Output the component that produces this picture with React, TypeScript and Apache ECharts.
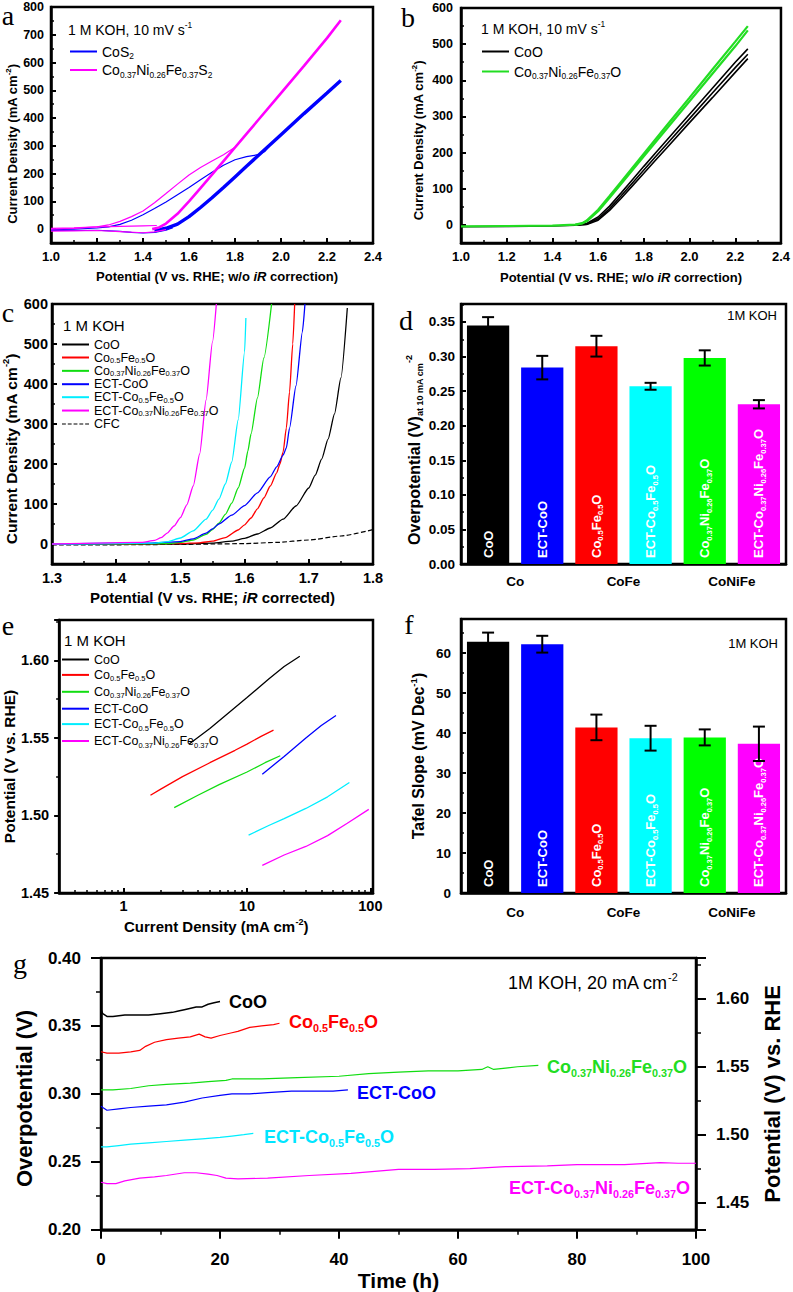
import React, { useEffect, useRef } from 'react';
import * as echarts from 'echarts';

type P = [number, number];

const FONT = '"Liberation Sans", Arial, Helvetica, sans-serif';
const SERIF = '"Liberation Serif", "DejaVu Serif", "Times New Roman", serif';

// ---------- names ----------
const N_CoS2 = 'CoS_{2}';
const N_CNFS = 'Co_{0.37}Ni_{0.26}Fe_{0.37}S_{2}';
const N_CoO = 'CoO';
const N_CF = 'Co_{0.5}Fe_{0.5}O';
const N_CNF = 'Co_{0.37}Ni_{0.26}Fe_{0.37}O';
const N_ECoO = 'ECT-CoO';
const N_ECF = 'ECT-Co_{0.5}Fe_{0.5}O';
const N_ECNF = 'ECT-Co_{0.37}Ni_{0.26}Fe_{0.37}O';
const N_CFC = 'CFC';

// ---------- panel a : CV, w/o iR ----------
const aCoS2Main: P[] = [[1.45,-6],[1.50,3],[1.55,18],[1.60,45],[1.65,78],[1.70,113],[1.75,150],[1.80,188],[1.85,226],[1.90,264],[1.95,302],[2.00,340],[2.10,416],[2.20,490],[2.26,535]];
const aCoS2First: P[] = [[1.00,-2],[1.10,0],[1.20,4],[1.25,8],[1.30,17],[1.35,32],[1.40,52],[1.45,74],[1.50,98],[1.55,124],[1.60,150],[1.65,178],[1.70,205],[1.75,230],[1.80,250],[1.85,261],[1.90,268],[1.93,280],[1.96,310]];
const aCoS2Return: P[] = [[1.00,-5],[1.10,-5],[1.20,-4],[1.30,-8],[1.35,-12],[1.40,-14],[1.45,-12],[1.50,-4],[1.53,5]];
const aCNFSMain: P[] = [[1.44,0],[1.47,6],[1.50,20],[1.55,55],[1.60,100],[1.65,148],[1.70,196],[1.75,245],[1.80,294],[1.85,343],[1.90,392],[2.00,490],[2.10,588],[2.20,688],[2.26,752]];
const aCNFSFirst: P[] = [[1.00,0],[1.10,3],[1.20,8],[1.25,15],[1.30,28],[1.35,45],[1.40,65],[1.45,95],[1.50,128],[1.55,162],[1.60,195],[1.65,222],[1.70,245],[1.75,268],[1.80,295],[1.84,335]];
const aCNFSReturn: P[] = [[1.00,-7],[1.10,-6],[1.20,-5],[1.30,-9],[1.40,-13],[1.45,-10],[1.50,-2]];
const aCNFSBase: P[] = [[1.00,3],[1.10,5],[1.20,8],[1.30,10],[1.40,12],[1.46,13]];

// ---------- panel b ----------
const bCoO1: P[] = [[1.00,-5],[1.20,-4],[1.40,-3],[1.50,-1],[1.55,4],[1.60,22],[1.65,52],[1.70,88],[1.75,125],[1.80,162],[1.85,198],[1.90,234],[2.00,306],[2.10,378],[2.20,450],[2.255,487]];
const bCoO2: P[] = [[1.50,-1],[1.55,2],[1.60,17],[1.65,45],[1.70,80],[1.75,116],[1.80,152],[1.85,188],[1.90,223],[2.00,294],[2.10,365],[2.20,435],[2.255,472]];
const bCoO3: P[] = [[1.50,-1],[1.55,1],[1.60,13],[1.65,40],[1.70,73],[1.75,108],[1.80,143],[1.85,178],[1.90,213],[2.00,283],[2.10,352],[2.20,422],[2.255,460]];
const bCNF1: P[] = [[1.00,-4],[1.20,-3],[1.40,-2],[1.50,1],[1.53,5],[1.55,12],[1.60,42],[1.65,80],[1.70,119],[1.80,197],[1.90,275],[2.00,352],[2.10,430],[2.20,507],[2.255,550]];
const bCNF2: P[] = [[1.50,0],[1.53,4],[1.55,10],[1.60,38],[1.65,75],[1.70,113],[1.80,190],[1.90,266],[2.00,342],[2.10,418],[2.20,494],[2.255,538]];

// ---------- panel c : iR corrected LSV ----------
const cCoO: P[] = [[1.30,0],[1.50,0],[1.55,2],[1.58,7],[1.60,14],[1.62,25],[1.64,40],[1.66,62],[1.68,95],[1.70,140],[1.71,172],[1.72,212],[1.73,262],[1.74,325],[1.75,415],[1.76,590]];
const cCF: P[] = [[1.30,0],[1.50,1],[1.53,3],[1.55,7],[1.57,16],[1.59,35],[1.60,48],[1.61,65],[1.62,88],[1.63,115],[1.64,145],[1.65,178],[1.655,200],[1.66,230],[1.665,290],[1.67,380],[1.675,500],[1.678,600]];
const cCNF: P[] = [[1.30,0],[1.48,1],[1.50,4],[1.52,10],[1.54,24],[1.55,36],[1.56,52],[1.57,74],[1.58,102],[1.59,140],[1.60,190],[1.605,232],[1.61,275],[1.62,365],[1.63,465],[1.642,600]];
const cECoO: P[] = [[1.30,0],[1.45,2],[1.50,6],[1.52,13],[1.54,27],[1.55,38],[1.56,50],[1.58,72],[1.60,96],[1.62,128],[1.64,168],[1.65,193],[1.66,222],[1.665,240],[1.67,290],[1.68,395],[1.69,530],[1.694,600]];
const cECF: P[] = [[1.30,0],[1.46,2],[1.48,6],[1.50,15],[1.52,33],[1.54,62],[1.55,84],[1.56,112],[1.57,150],[1.58,205],[1.59,310],[1.60,480],[1.602,565]];
const cECNF: P[] = [[1.30,0],[1.44,4],[1.46,9],[1.47,16],[1.48,28],[1.49,45],[1.50,66],[1.51,98],[1.52,145],[1.53,225],[1.54,360],[1.55,505],[1.556,600]];
const cCFC: P[] = [[1.30,-2],[1.40,-2],[1.50,-1],[1.55,0],[1.60,1],[1.65,4],[1.70,10],[1.75,20],[1.80,36]];

// ---------- panels d, f : bars ----------
const barCategories = ['CoO', 'ECT-CoO', 'Co0.5Fe0.5O', 'ECT-Co0.5Fe0.5O', 'Co0.37Ni0.26Fe0.37O', 'ECT-Co0.37Ni0.26Fe0.37O'];
const barLabels = [N_CoO, N_ECoO, N_CF, N_ECF, N_CNF, N_ECNF];
const groupLabels = ['Co', 'CoFe', 'CoNiFe'];
const dValues = [0.345, 0.284, 0.315, 0.257, 0.298, 0.231];
const dErrors = [0.012, 0.017, 0.015, 0.005, 0.011, 0.006];
const fValues = [62.8, 62.2, 41.4, 38.7, 38.9, 37.3];
const fErrors = [2.3, 2.1, 3.2, 3.1, 2.0, 4.3];

// ---------- panel e : Tafel ----------
const eCoO: P[] = [[3.4,1.546],[5,1.556],[10,1.576],[15,1.588],[20,1.596],[26.8,1.6026]];
const eCF: P[] = [[1.65,1.513],[2,1.517],[3,1.525],[5,1.534],[8,1.542],[10,1.546],[13,1.551],[16.4,1.555]];
const eCNF: P[] = [[2.57,1.505],[4,1.513],[6,1.520],[10,1.528],[14,1.534],[18.6,1.5385]];
const eECoO: P[] = [[13.3,1.5266],[15,1.530],[20,1.538],[30,1.550],[40,1.558],[52.6,1.5644]];
const eECF: P[] = [[10.3,1.4873],[15,1.4935],[20,1.498],[30,1.5045],[45,1.512],[67.6,1.5212]];
const eECNF: P[] = [[13.3,1.4678],[20,1.4745],[30,1.480],[45,1.487],[65,1.495],[97,1.5039]];

// ---------- panel g : stability ----------
const gCoO: P[] = [[0,0.362],[0.3,0.359],[1,0.357],[2,0.357],[4,0.358],[6,0.358],[8,0.358],[10,0.359],[12,0.360],[13,0.361],[14,0.362],[16,0.364],[17,0.364],[18,0.366],[19,0.367],[20,0.368]];
const gCF: P[] = [[0,0.331],[1,0.330],[3,0.330],[5,0.331],[6.5,0.332],[7.5,0.335],[9,0.338],[11,0.340],[13,0.341],[15,0.342],[16.5,0.344],[17.5,0.342],[18.5,0.341],[20,0.343],[22,0.345],[23,0.346],[25,0.349],[27,0.350],[29,0.351],[30,0.352]];
const gCNF: P[] = [[0,0.303],[2,0.303],[5,0.304],[8,0.306],[11,0.307],[15,0.308],[18,0.309],[21,0.310],[22,0.311],[27,0.311],[33,0.312],[40,0.313],[45,0.315],[50,0.316],[55,0.317],[60,0.317],[64,0.318],[65,0.320],[66,0.318],[68,0.319],[70,0.320],[73.5,0.321]];
const gECoO: P[] = [[0,0.291],[0.3,0.290],[1,0.288],[3,0.289],[5,0.290],[8,0.291],[11,0.292],[14,0.294],[17,0.297],[20,0.299],[22,0.300],[25,0.300],[28,0.301],[32,0.302],[36,0.302],[39,0.302],[41.5,0.303]];
const gECF: P[] = [[0,0.261],[1,0.261],[3,0.262],[5,0.263],[8,0.264],[11,0.265],[14,0.266],[17,0.267],[20,0.268],[22,0.269],[24,0.270],[25.6,0.271]];
const gECNF: P[] = [[0,0.235],[1,0.234],[2.5,0.234],[4,0.236],[6.5,0.238],[9,0.239],[11,0.240],[14,0.242],[16,0.242],[18,0.241],[19.5,0.240],[21,0.238],[23,0.2375],[28,0.238],[35,0.240],[42,0.2415],[50,0.2445],[56,0.2445],[62,0.245],[68,0.2465],[75,0.247],[80,0.248],[88,0.248],[94,0.2495],[97,0.249],[100,0.249]];

// ---------- styles ----------
const BLACK = '#000000';
const RED = '#ff0000';
const GREEN = '#11dd11';
const BLUE = '#0000ff';
const CYAN = '#00eeff';
const MAGENTA = '#ff00ff';
const barColors = ['#000000', '#0000ff', '#ff0000', '#00ffff', '#00ff00', '#ff00ff'];
const DASH_ICON = 'path://M0,0H4V1H0Z M6,0H10V1H6Z M12,0H16V1H12Z M18,0H22V1H18Z M24,0H28V1H24Z';

function rt(s: string): string {
  let out = '';
  let buf = '';
  const flush = () => { if (buf) { out += '{m|' + buf + '}'; buf = ''; } };
  let i = 0;
  while (i < s.length) {
    const c = s[i];
    if ((c === '_' || c === '^' || c === '~') && s[i + 1] === '{') {
      flush();
      const end = s.indexOf('}', i);
      const key = c === '_' ? 's' : c === '^' ? 'p' : 'i';
      out += '{' + key + '|' + s.slice(i + 2, end) + '}';
      i = end + 1;
    } else { buf += c; i++; }
  }
  flush();
  return out;
}

function rich(size: number, bold: boolean, color = '#000', subRatio = 0.6, lh?: number, family = FONT) {
  const fw = bold ? 'bold' : 'normal';
  const sub = Math.round(size * subRatio * 10) / 10;
  const L = lh ?? Math.round(size * 1.3 * 10) / 10;
  const base = { fontFamily: family, fontWeight: fw, color, fill: color };
  return {
    m: { ...base, fontSize: size, lineHeight: L },
    i: { ...base, fontSize: size, lineHeight: L, fontStyle: 'italic' },
    s: { ...base, fontSize: sub, lineHeight: sub, verticalAlign: 'bottom' },
    p: { ...base, fontSize: sub, lineHeight: sub, verticalAlign: 'top' },
  };
}

function axis(o: any) {
  const a: any = {
    type: o.type ?? 'value',
    gridIndex: o.grid,
    position: o.position,
    min: o.min,
    max: o.max,
    name: o.name ? rt(o.name) : '',
    nameLocation: 'middle',
    nameGap: o.nameGap ?? 25,
    nameTextStyle: { rich: rich(o.nameSize ?? 13, true, '#000', o.nameSub ?? 0.6), padding: o.namePad ?? 0 },
    axisLine: { show: true, onZero: false, lineStyle: { color: '#000', width: 2.5 } },
    axisTick: { show: true, inside: o.inside ?? true, length: o.tickLen ?? 5, lineStyle: { color: '#000', width: 2 } },
    minorTick: { show: o.minor ?? true, splitNumber: o.minorSplit ?? 2, length: o.minorLen ?? 3, lineStyle: { color: '#000', width: 1.5 } },
    splitLine: { show: false },
    minorSplitLine: { show: false },
    axisLabel: {
      show: true, margin: o.margin ?? 6, fontFamily: FONT, fontSize: o.labelSize ?? 13, fontWeight: 'bold', color: '#000',
      formatter: o.fmt, showMinLabel: o.showMin ?? true, showMaxLabel: o.showMax ?? true,
    },
  };
  if (o.interval != null) a.interval = o.interval;
  if (o.step != null) { a.minInterval = o.step; a.maxInterval = o.step; a.splitNumber = o.split; }
  if (o.logBase) a.logBase = o.logBase;
  return a;
}

function line(name: string, data: P[], color: string, width: number, xi: number, yi: number, extra: any = {}) {
  return {
    type: 'line', name, data, xAxisIndex: xi, yAxisIndex: yi,
    symbol: 'none', showSymbol: false, smooth: extra.smooth ?? false, smoothMonotone: 'x',
    lineStyle: { color, width, type: extra.dash ? 'dashed' : 'solid' },
    itemStyle: { color }, silent: true, clip: true, z: extra.z ?? 3,
  };
}

function legend(prefix: string, names: string[], left: number, top: number, size: number, gap: number, lh: number) {
  return {
    left, top, orient: 'vertical', padding: 0, itemGap: gap, itemWidth: 27, itemHeight: 2,
    selectedMode: false,
    data: names.map(n => ({ name: prefix + n, icon: n === N_CFC ? DASH_ICON : 'rect' })),
    formatter: (n: string) => rt(n.slice(prefix.length)),
    textStyle: { rich: rich(size, false, '#000', 0.6, lh) },
  };
}

function gtext(text: string, x: number, y: number, size: number, bold: boolean, color = '#000', align = 'left', subRatio = 0.6) {
  return {
    type: 'text', x, y, silent: true, z: 50,
    style: { text: rt(text), rich: rich(size, bold, color, subRatio), align, textAlign: align, verticalAlign: 'middle', textVerticalAlign: 'middle' },
  };
}

function letter(t: string, x: number, y: number) {
  return {
    type: 'text', x, y, silent: true, z: 50,
    style: { text: t, fill: '#000', font: '28px ' + SERIF, align: 'center', textAlign: 'center', verticalAlign: 'middle', textVerticalAlign: 'middle' },
  };
}

function errRender(params: any, api: any) {
  const x = api.value(0);
  const pLo = api.coord([x, api.value(1)]);
  const pHi = api.coord([x, api.value(2)]);
  const hw = 6;
  const style = { stroke: '#000', lineWidth: 2 };
  return {
    type: 'group',
    children: [
      { type: 'line', shape: { x1: pLo[0], y1: pLo[1], x2: pHi[0], y2: pHi[1] }, style },
      { type: 'line', shape: { x1: pHi[0] - hw, y1: pHi[1], x2: pHi[0] + hw, y2: pHi[1] }, style },
      { type: 'line', shape: { x1: pLo[0] - hw, y1: pLo[1], x2: pLo[0] + hw, y2: pLo[1] }, style },
    ],
  };
}

function bars(values: number[], xi: number, yi: number) {
  return {
    type: 'bar', xAxisIndex: xi, yAxisIndex: yi, barWidth: '78%', silent: true, z: 2,
    data: values.map((v, i) => ({ value: v, itemStyle: { color: barColors[i] } })),
    label: {
      show: true, position: 'insideBottom', rotate: 90, align: 'left', verticalAlign: 'middle', distance: 6,
      color: '#fff',
      formatter: (p: any) => rt(barLabels[p.dataIndex]),
      rich: rich(13, true, '#fff', 0.58),
    },
  };
}

function errs(values: number[], errors: number[], xi: number, yi: number) {
  return {
    type: 'custom', xAxisIndex: xi, yAxisIndex: yi, silent: true, z: 5,
    encode: { x: 0, y: [1, 2] },
    data: values.map((v, i) => [i, v - errors[i], v + errors[i]]),
    renderItem: errRender,
  };
}

const f1 = (v: number) => v.toFixed(1);
const f2 = (v: number) => v.toFixed(2);
const f0 = (v: number) => String(Math.round(v));

function buildOption() {
  const gridBase = { show: true, borderColor: '#000', borderWidth: 2.5, backgroundColor: 'rgba(0,0,0,0)' };
  const grid = [
    { ...gridBase, left: 51, top: 7, width: 322, height: 236 },   // a
    { ...gridBase, left: 461, top: 8, width: 321, height: 235 },  // b
    { ...gridBase, left: 52, top: 304, width: 321, height: 260 }, // c
    { ...gridBase, left: 461, top: 304, width: 325, height: 260 },// d
    { ...gridBase, left: 52, top: 620, width: 321, height: 273 }, // e
    { ...gridBase, left: 461, top: 619, width: 325, height: 274 },// f
    { ...gridBase, left: 101, top: 958, width: 595, height: 275 },// g
  ];

  const catHidden = (grid: number, data: string[]) => ({
    type: 'category', gridIndex: grid, position: 'top', data, boundaryGap: true,
    axisLine: { show: false }, axisTick: { show: false }, axisLabel: { show: false }, splitLine: { show: false },
  });
  const catGroup = (grid: number, margin: number) => ({
    type: 'category', gridIndex: grid, position: 'bottom', data: groupLabels, boundaryGap: true,
    axisLine: { show: true, onZero: false, lineStyle: { color: '#000', width: 2.5 } },
    axisTick: { show: false }, splitLine: { show: false },
    axisLabel: { show: true, margin, fontFamily: FONT, fontSize: 13.5, fontWeight: 'bold', color: '#000' },
  });

  const xAxis = [
    axis({ grid: 0, min: 1.0, max: 2.4, interval: 0.2, fmt: f1, name: 'Potential (V vs. RHE; w/o ~{iR} correction)', nameGap: 25, nameSize: 13, labelSize: 13, margin: 7, namePad: [0, 0, 0, 10] }),
    axis({ grid: 1, min: 1.0, max: 2.4, interval: 0.2, fmt: f1, name: 'Potential (V vs. RHE; w/o ~{iR} correction)', nameGap: 26, nameSize: 13, labelSize: 13, margin: 7 }),
    axis({ grid: 2, min: 1.3, max: 1.8, interval: 0.1, fmt: f1, name: 'Potential (V vs. RHE; ~{iR} corrected)', nameGap: 24, nameSize: 15, labelSize: 14.5, margin: 6 }),
    catHidden(3, barCategories),
    catGroup(3, 10),
    axis({ grid: 4, type: 'log', logBase: 10, min: 0.3, max: 105, fmt: f0, showMin: false, showMax: false, minor: true, minorSplit: 9, name: 'Current Density (mA cm^{-2})', nameGap: 24, nameSize: 15, labelSize: 14.5, margin: 5 }),
    catHidden(5, barCategories),
    catGroup(5, 12),
    axis({ grid: 6, min: 0, max: 100, interval: 20, fmt: f0, inside: false, tickLen: 9, minorLen: 5, name: 'Time (h)', nameGap: 37, nameSize: 21, labelSize: 17, margin: 21 }),
  ];

  const yAxis = [
    axis({ grid: 0, min: -50, max: 800, step: 100, split: 9, fmt: f0, showMin: false, showMax: true, name: 'Current Density (mA cm^{-2})', nameGap: 30, nameSize: 13, labelSize: 12.5, margin: 7, namePad: [0, 38, 0, 0] }),
    axis({ grid: 1, min: -50, max: 600, step: 100, split: 7, fmt: f0, showMin: false, showMax: true, name: 'Current Density (mA cm^{-2})', nameGap: 34, nameSize: 13, labelSize: 12.5, margin: 8, namePad: [0, 30, 0, 0] }),
    axis({ grid: 2, min: -50, max: 600, step: 100, split: 7, fmt: f0, showMin: false, showMax: true, name: 'Current Density (mA cm^{-2})', nameGap: 29, nameSize: 15.5, labelSize: 14.5, margin: 4, namePad: [0, 30, 0, 0] }),
    axis({ grid: 3, min: 0, max: 0.376, interval: 0.05, fmt: f2, showMax: false, name: 'Overpotential (V)_{at 10 mA cm}^{-2}', nameGap: 31, nameSize: 16, nameSub: 0.56, labelSize: 13.5, margin: 6, namePad: [0, 32, 0, 0] }),
    axis({ grid: 4, min: 1.45, max: 1.626, interval: 0.05, fmt: f2, showMax: false, inside: false, name: 'Potential (V vs. RHE)', nameGap: 33, nameSize: 15.5, labelSize: 14.5, margin: 10, namePad: [0, 20, 0, 0] }),
    axis({ grid: 5, min: 0, max: 68.5, interval: 10, fmt: f0, showMax: false, name: 'Tafel Slope (mV Dec^{-1})', nameGap: 32, nameSize: 16, labelSize: 13.5, margin: 10 }),
    axis({ grid: 6, min: 0.2, max: 0.4, interval: 0.05, fmt: f2, inside: false, tickLen: 10, minorLen: 5, name: 'Overpotential (V)', nameGap: 62, nameSize: 22, labelSize: 17, margin: 20, namePad: [0, 9, 0, 0] }),
    axis({ grid: 6, position: 'right', min: 1.43, max: 1.63, step: 0.05, split: 4, fmt: f2, showMin: false, showMax: false, inside: false, tickLen: 10, minorLen: 5, name: 'Potential (V) vs. RHE', nameGap: 62, nameSize: 22, labelSize: 17, margin: 20 }),
  ];

  const series: any[] = [
    // a
    line('a:CoS2 first', aCoS2First, BLUE, 1.2, 0, 0),
    line('a:CoS2 return', aCoS2Return, BLUE, 1.2, 0, 0),
    line('a:' + N_CoS2, aCoS2Main, BLUE, 3.4, 0, 0),
    line('a:CNFS first', aCNFSFirst, MAGENTA, 1.2, 0, 0),
    line('a:CNFS return', aCNFSReturn, MAGENTA, 1.2, 0, 0),
    line('a:CNFS base', aCNFSBase, MAGENTA, 1.2, 0, 0),
    line('a:' + N_CNFS, aCNFSMain, MAGENTA, 2.6, 0, 0),
    // b
    line('b:' + N_CoO, bCoO1, BLACK, 1.6, 1, 1),
    line('b:CoO 2', bCoO2, BLACK, 1.6, 1, 1),
    line('b:CoO 3', bCoO3, BLACK, 1.6, 1, 1),
    line('b:' + N_CNF, bCNF1, '#22dd22', 2.2, 1, 1),
    line('b:CNF 2', bCNF2, '#22dd22', 2.2, 1, 1),
    // c
    line('c:' + N_CFC, cCFC, BLACK, 1.2, 2, 2, { dash: true, smooth: 0.2 }),
    line('c:' + N_CoO, cCoO, BLACK, 1.3, 2, 2, { smooth: 0.2 }),
    line('c:' + N_CF, cCF, RED, 1.3, 2, 2, { smooth: 0.2 }),
    line('c:' + N_CNF, cCNF, GREEN, 1.3, 2, 2, { smooth: 0.2 }),
    line('c:' + N_ECoO, cECoO, BLUE, 1.3, 2, 2, { smooth: 0.2 }),
    line('c:' + N_ECF, cECF, CYAN, 1.3, 2, 2, { smooth: 0.2 }),
    line('c:' + N_ECNF, cECNF, MAGENTA, 1.3, 2, 2, { smooth: 0.2 }),
    // d
    bars(dValues, 3, 3),
    errs(dValues, dErrors, 3, 3),
    // e
    line('e:' + N_CoO, eCoO, BLACK, 1.3, 5, 4),
    line('e:' + N_CF, eCF, RED, 1.3, 5, 4),
    line('e:' + N_CNF, eCNF, GREEN, 1.3, 5, 4),
    line('e:' + N_ECoO, eECoO, BLUE, 1.3, 5, 4),
    line('e:' + N_ECF, eECF, CYAN, 1.3, 5, 4),
    line('e:' + N_ECNF, eECNF, MAGENTA, 1.3, 5, 4),
    // f
    bars(fValues, 6, 5),
    errs(fValues, fErrors, 6, 5),
    // g
    line('g:' + N_CoO, gCoO, BLACK, 1.5, 8, 6),
    line('g:' + N_CF, gCF, RED, 1.2, 8, 6),
    line('g:' + N_CNF, gCNF, GREEN, 1.2, 8, 6),
    line('g:' + N_ECoO, gECoO, BLUE, 1.2, 8, 6),
    line('g:' + N_ECF, gECF, CYAN, 1.2, 8, 6),
    line('g:' + N_ECNF, gECNF, MAGENTA, 1.2, 8, 6),
  ];

  const legendList = [
    legend('a:', [N_CoS2, N_CNFS], 70, 44.5, 14, 3, 17),
    legend('b:', [N_CoO, N_CNF], 482, 44.5, 14, 6, 17),
    legend('c:', [N_CoO, N_CF, N_CNF, N_ECoO, N_ECF, N_ECNF, N_CFC], 62, 338, 12.5, 0, 13.7),
    legend('e:', [N_CoO, N_CF, N_CNF, N_ECoO, N_ECF, N_ECNF], 62, 653, 12.5, 2.4, 16),
  ];

  const graphic = [
    letter('a', 8, 15), letter('b', 408, 17), letter('c', 8, 312), letter('d', 406, 320),
    letter('e', 8, 625), letter('f', 409, 624), letter('g', 20, 963),
    gtext('1 M KOH, 10 mV s^{-1}', 68, 30, 14, false),
    gtext('1 M KOH, 10 mV s^{-1}', 481, 29, 14, false),
    gtext('1 M KOH', 63, 325, 15, false),
    gtext('1 M KOH', 64, 640, 15, false),
    gtext('1M KOH', 777, 315, 13, false, '#000', 'right'),
    gtext('1M KOH', 778, 643, 13, false, '#000', 'right'),
    gtext('1M KOH, 20 mA cm^{-2}', 508, 983, 18, false),
    gtext('CoO', 229, 1002, 18, true, BLACK),
    gtext(N_CF, 289, 1022, 18, true, RED),
    gtext(N_CNF, 547, 1067, 18, true, '#22dd22'),
    gtext(N_ECoO, 357, 1093, 18, true, BLUE),
    gtext(N_ECF, 264, 1137, 18, true, '#00e5ff'),
    gtext(N_ECNF, 690, 1188, 18, true, MAGENTA, 'right'),
  ];

  return {
    animation: false,
    backgroundColor: '#ffffff',
    textStyle: { fontFamily: FONT },
    grid, xAxis, yAxis, series, legend: legendList, graphic,
  };
}

export default function App() {
  const ref = useRef<HTMLDivElement>(null);
  useEffect(() => {
    if (!ref.current) return;
    const chart = echarts.init(ref.current, null, { renderer: 'svg' });
    chart.setOption(buildOption() as any);
    return () => { chart.dispose(); };
  }, []);
  return (
    <div
      ref={ref}
      style={{ position: 'absolute', left: 0, top: 0, width: 793, height: 1292, background: '#fff' }}
    />
  );
}
